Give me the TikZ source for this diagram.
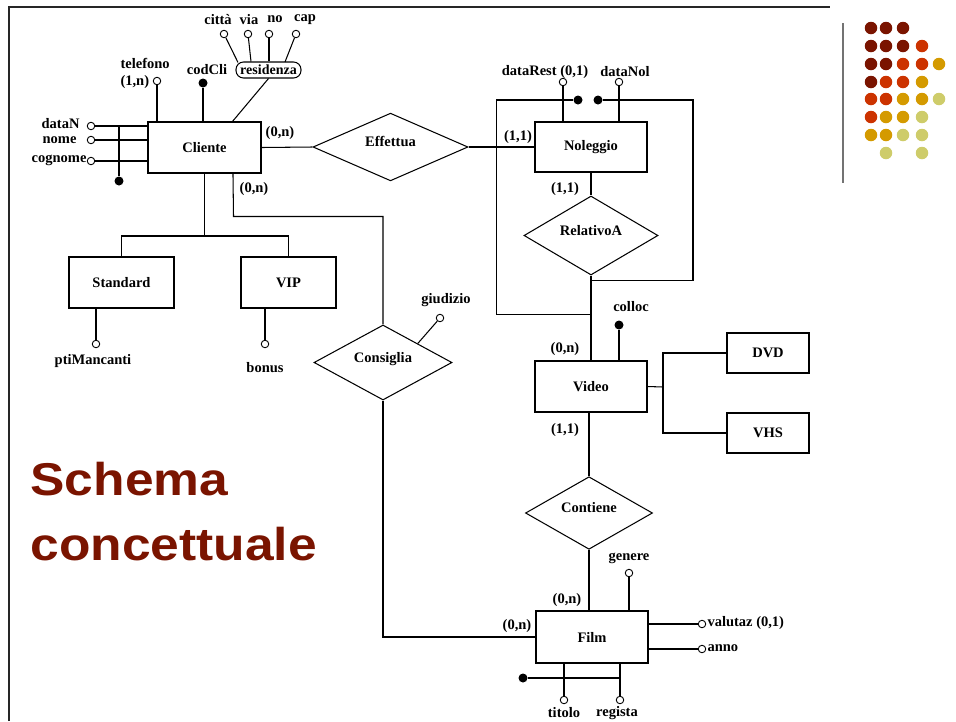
\documentclass[tikz,border=0pt]{standalone}
\usepackage{fontspec}
\setmainfont{Liberation Serif}
\newfontfamily\titlefont{Liberation Sans}
\usetikzlibrary{shapes.geometric,calc}
\definecolor{dred}{RGB}{122,20,0}
\definecolor{ored}{RGB}{204,51,0}
\definecolor{gold}{RGB}{212,154,0}
\definecolor{olive}{RGB}{206,204,106}
\tikzset{
  lab/.style={font=\bfseries\fontsize{14.5}{17}\selectfont, inner sep=1pt},
  ent/.style={draw, rectangle, inner sep=0pt, font=\bfseries\fontsize{14.5}{17}\selectfont},
  rel/.style={draw, diamond, inner sep=0pt, text height=8pt, text depth=9pt, font=\bfseries\fontsize{14.5}{17}\selectfont},
  att/.style={draw, circle, fill=white, inner sep=0pt, minimum size=7.5pt, line width=0.9pt},
  keydot/.style={circle, fill=black, inner sep=0pt, minimum size=9pt},
  dot/.style={circle, inner sep=0pt, minimum size=12.5pt},
  ttl/.style={anchor=base west, text=dred, inner sep=0pt, font=\titlefont\bfseries\fontsize{46}{60}\selectfont}
}
\begin{document}
\begin{tikzpicture}[x=1pt,y=-1pt,line width=1.05pt]
\useasboundingbox (0,0) rectangle (956,721);
% frame
\draw[line width=2pt, black!85] (9,721) -- (9,7) -- (830,7);
\draw[line width=1.5pt, black!55] (843,23) -- (843,183);
% dots
\foreach \x/\y/\c in {871/28/dred,886/28/dred,903/28/dred,
  871/46/dred,886/46/dred,903/46/dred,922/46/ored,
  871/64/dred,886/64/dred,903/64/ored,922/64/ored,939/64/gold,
  871/82/dred,886/82/ored,903/82/ored,922/82/gold,
  871/99/ored,886/99/ored,903/99/gold,922/99/gold,939/99/olive,
  871/117/ored,886/117/gold,903/117/gold,922/117/olive,
  871/135/gold,886/135/gold,903/135/olive,922/135/olive,
  886/153/olive,922/153/olive}
  \node[dot, fill=\c] at (\x,\y) {};
% title
\node[ttl] (t1) at (30,495) {\scalebox{1.12}[1]{Schema}};
\node[ttl] (t2) at (30,560) {\scalebox{1.12}[1]{concettuale}};

% ---------- Cliente ----------
\node[ent, minimum width=113pt, minimum height=51pt] (cli) at (204.5,147.5) {Cliente};
\node[att] (dataN) at (91,126) {};
\node[att] (nome) at (91,140) {};
\node[att] (cogn) at (91,161) {};
\draw (dataN) -- (dataN -| cli.west);
\draw (nome) -- (nome -| cli.west);
\draw (cogn) -- (cogn -| cli.west);
\node[keydot] (kcli) at (119,181) {};
\draw (kcli) -- (kcli |- dataN);
\node[lab, anchor=east, inner sep=0pt] (ldataN) at (80,123.5) {dataN};
\node[lab, anchor=east, inner sep=0pt] (lnome) at (77,140.5) {nome};
\node[lab, anchor=east, inner sep=0pt] (lcogn) at (87,160) {cognome};
\node[att] (tel) at (157,81) {};
\draw (tel) -- (tel |- cli.north);
\node[lab, anchor=west, align=left] (ltel) at (119,73) {telefono\\(1,n)};
\node[keydot] (cod) at (203,83) {};
\draw (cod) -- (cod |- cli.north);
\node[lab] (lcod) at (207,70) {codCli};
\node[draw, rounded corners=7.5pt, inner sep=0pt, minimum width=65pt, minimum height=16pt,
  font=\bfseries\fontsize{14}{17}\selectfont] (res) at (268.5,70) {residenza};
\draw ($(cli.north west)+(85,0)$) -- (res.south);
\node[att] (citta) at (224,34) {};
\node[att] (via) at (248,34) {};
\node[att] (no) at (269,34) {};
\node[att] (cap) at (296,34) {};
\draw (citta) -- ($(res.north)+(-30.5,1)$);
\draw (via) -- ($(res.north)+(-17.5,0)$);
\draw (no) -- ($(res.north)+(0.5,0)$);
\draw (cap) -- ($(res.north)+(16.5,0.5)$);
\node[lab] (lcitta) at (218,20) {città};
\node[lab] (lvia) at (249,20) {via};
\node[lab] (lno) at (275,19) {no};
\node[lab] (lcap) at (305,20) {cap};

% generalization Cliente
\coordinate (g1) at (204.5,236);
\node[ent, minimum width=105pt, minimum height=51pt] (std) at (121.5,282.5) {Standard};
\node[ent, minimum width=95pt, minimum height=51pt] (vip) at (288.5,282.5) {VIP};
\draw (cli.south) -- (g1);
\draw (std.north) |- (g1) -| (vip.north);
\node[att] (pti) at (96,344) {};
\draw (pti) -- (pti |- std.south);
\node[lab] (lpti) at (93,361) {ptiMancanti};
\node[att] (bon) at (265,344) {};
\draw (bon) -- (bon |- vip.south);
\node[lab] (lbon) at (265,368) {bonus};

% ---------- Effettua ----------
\node[rel, minimum width=155pt, minimum height=58pt] (eff) at (390.5,147) {Effettua};
\node[ent, minimum width=112pt, minimum height=50pt] (nol) at (591,147) {Noleggio};
\draw (cli.east) -- (eff.west);
\draw (eff.east) -- (nol.west);
\node[lab] (l1) at (280,133) {(0,n)};
\node[lab] (l2) at (518,137) {(1,1)};

% ---------- Consiglia ----------
\node[rel, minimum width=138pt, minimum height=65pt] (cons) at (383,362.5) {Consiglia};
\coordinate (c1) at (233.5,216.5);
\draw ($(cli.south west)+(85.5,0)$) -- (c1) -| (cons.north);
\node[lab] (l3) at (254,189) {(0,n)};
\node[att] (giu) at (440,318) {};
\draw (giu) -- ($(cons.north)!0.5!(cons.east)$);
\node[lab] (lgiu) at (446,300) {giudizio};

% ---------- Noleggio ----------
\node[att] (drest) at (563,82) {};
\node[att] (dnol) at (619,82) {};
\draw (drest) -- (drest |- nol.north);
\draw (dnol) -- (dnol |- nol.north);
\node[lab] (ldrest) at (545,72) {dataRest (0,1)};
\node[lab] (ldnol) at (625,72) {dataNol};
\node[keydot] (k1) at (578,100) {};
\node[keydot] (k2) at (598,100) {};

\node[rel, minimum width=134pt, minimum height=65pt] (rela) at (591,235.5) {RelativoA};
\draw (nol.south) -- (rela.north);
\node[lab] (l4) at (565,189) {(1,1)};

\node[ent, minimum width=112pt, minimum height=51pt] (vid) at (591,386.5) {Video};
\draw (rela.south) -- (vid.north);
\coordinate (n1) at (496.5,100);
\coordinate (n2) at (496.5,314.5);
\draw (k1) -- (n1) -- (n2) -- (n2 -| vid.north);
\coordinate (n3) at (693,100);
\coordinate (n4) at (693,280.5);
\draw (k2) -- (n3) -- (n4) -- (n4 -| rela.south);

% ---------- Video ----------
\node[keydot] (col) at (619,325) {};
\draw (col) -- (col |- vid.north);
\node[lab] (lcol) at (631,307) {colloc};
\node[lab] (l5) at (565,349) {(0,n)};
\node[lab] (l6) at (565,430) {(1,1)};
\node[ent, minimum width=82pt, minimum height=40pt] (dvd) at (768,353) {DVD};
\node[ent, minimum width=82pt, minimum height=40pt] (vhs) at (768,433) {VHS};
\coordinate (v1) at (663,387);
\draw (vid.east) -- (v1);
\draw (dvd.west) -| (v1) |- (vhs.west);

% ---------- Contiene / Film ----------
\node[rel, minimum width=127pt, minimum height=62pt] (con) at (589,513) {Contiene};
\node[ent, minimum width=112pt, minimum height=52pt] (film) at (592,637) {Film};
\draw (vid.south -| con.north) -- (con.north);
\draw (con.south) -- (con.south |- film.north);
\draw (cons.south) |- (film.west);
\node[lab] (l7) at (567,600) {(0,n)};
\node[lab] (l8) at (517,626) {(0,n)};
\node[att] (gen) at (629,573) {};
\draw (gen) -- (gen |- film.north);
\node[lab] (lgen) at (629,558) {genere};
\node[att] (val) at (702,624) {};
\draw (val) -- (val -| film.east);
\node[lab, anchor=west] (lval) at (706,623) {valutaz (0,1)};
\node[att] (ann) at (702,649) {};
\draw (ann) -- (ann -| film.east);
\node[lab, anchor=west] (lann) at (706,648) {anno};
\node[att] (tit) at (564,700) {};
\node[att] (reg) at (620,700) {};
\draw (tit) -- (tit |- film.south);
\draw (reg) -- (reg |- film.south);
\node[keydot] (kf) at (523,678) {};
\draw (kf) -- (kf -| reg);
\node[lab] (ltit) at (564,713) {titolo};
\node[lab] (lreg) at (617,713) {regista};
\end{tikzpicture}
\end{document}
